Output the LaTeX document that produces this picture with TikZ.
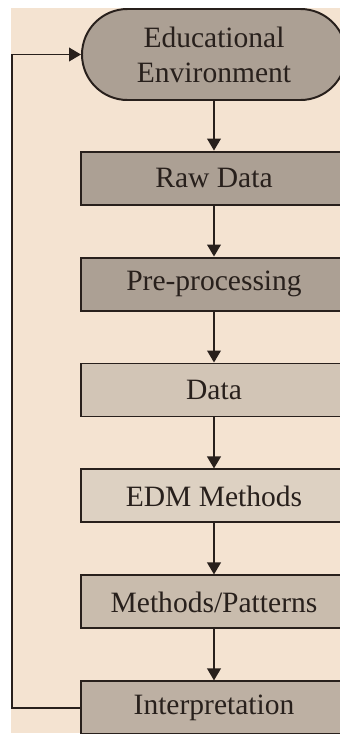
\documentclass[tikz,border=0pt]{standalone}
\usepackage{fontspec}
\setmainfont{Liberation Serif}
\usetikzlibrary{arrows.meta,positioning,shapes.misc}
\definecolor{edmpaper}{RGB}{244,227,209}
\definecolor{edmline}{RGB}{40,32,28}
\definecolor{edmdark}{RGB}{172,160,148}
\definecolor{edmmid}{RGB}{189,176,163}
\definecolor{edmsoft}{RGB}{201,188,173}
\definecolor{edmlight}{RGB}{210,197,182}
\definecolor{edmpale}{RGB}{221,209,194}
\tikzset{
  stepbox/.style={draw=edmline, line width=1.4pt, minimum width=6.65cm,
                  minimum height=1.325cm, inner sep=0pt, align=center,
                  font=\fontsize{21}{25}\selectfont, text=edmline},
  termbox/.style={stepbox, rounded rectangle, minimum width=6.6cm,
                  minimum height=2.275cm},
  flowarr/.style={-{Triangle[length=3mm,width=3.4mm]}, edmline, line width=1.4pt},
}
\begin{document}
\begin{tikzpicture}[node distance=1.275cm]
    \useasboundingbox (0,0) rectangle (8.5,-18.35);
    \clip (0,0) rectangle (8.5,-18.35);
    \fill[edmpaper] (0.275,-0.2) rectangle (8.6,-18.325);

    \node[termbox, fill=edmdark] (env) at (5.35,-1.3625)
         {Educational\\Environment};
    \node[stepbox, fill=edmdark, below=1.24cm of env] (raw) {Raw Data};
    \node[stepbox, fill=edmdark, below=of raw] (prep) {Pre-processing};
    \node[stepbox, fill=edmlight, below=of prep] (data) {Data};
    \node[stepbox, fill=edmpale, below=of data] (meth) {EDM Methods};
    \node[stepbox, fill=edmsoft, below=of meth] (pat) {Methods/Patterns};
    \node[stepbox, fill=edmmid, below=of pat] (interp) {Interpretation};

    \draw[flowarr] (env) -- (raw);
    \draw[flowarr] (raw) -- (prep);
    \draw[flowarr] (prep) -- (data);
    \draw[flowarr] (data) -- (meth);
    \draw[flowarr] (meth) -- (pat);
    \draw[flowarr] (pat) -- (interp);
    % back to the start
    \draw[flowarr] (interp.west) -- ++(-1.7,0) |- (env.west);
  \end{tikzpicture}
\end{document}
